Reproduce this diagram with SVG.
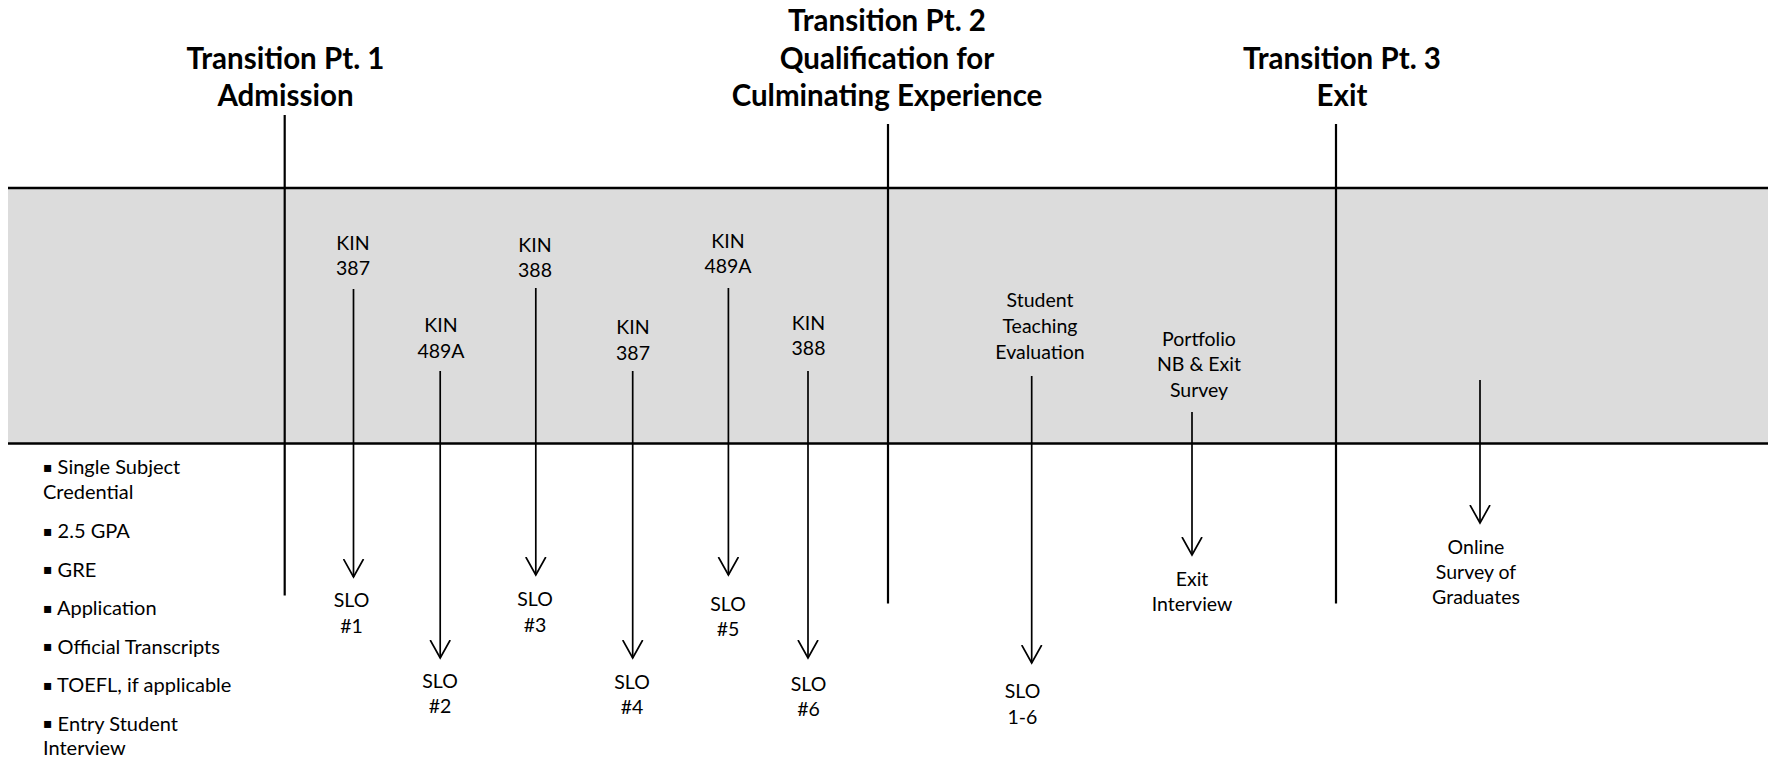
<svg xmlns="http://www.w3.org/2000/svg" width="1771" height="759" viewBox="0 0 1771 759">
<style>
  .title { font-family: Lato, "Liberation Sans", sans-serif; font-weight: bold; font-size: 29.5px; fill: #000; text-anchor: middle; }
  .lbl { font-family: Lato, "Liberation Sans", sans-serif; font-size: 19.5px; fill: #000; text-anchor: middle; }
  .lst { font-family: Lato, "Liberation Sans", sans-serif; font-size: 20px; fill: #000; }
  .bul { font-family: "DejaVu Sans", sans-serif; font-size: 14px; }
  .band { fill: #dcdcdc; }
  .edge { stroke: #000; stroke-width: 2.5; fill: none; }
  .tp { stroke: #000; stroke-width: 2.2; fill: none; }
  .arr { stroke: #000; stroke-width: 1.7; fill: none; marker-end: url(#vhead); }
</style>
<defs>
  <marker id="vhead" viewBox="0 0 20 22" refX="18" refY="11" markerWidth="20" markerHeight="22" markerUnits="userSpaceOnUse" orient="auto">
    <path d="M0,1 L18,11 L0,21" fill="none" stroke="#000" stroke-width="1.7"/>
  </marker>
</defs>
<rect width="1771" height="759" fill="#fff"/>
<g id="band">
  <rect class="band" x="8" y="188" width="1760" height="255"/>
  <line class="edge" x1="8" y1="188" x2="1768" y2="188"/>
  <line class="edge" x1="8" y1="443.5" x2="1768" y2="443.5"/>
</g>
<g id="transition-1">
  <text class="title" x="285.5" y="68.5">Transition Pt. 1</text>
  <text class="title" x="285.5" y="106">Admission</text>
  <line class="tp" x1="284.7" y1="115" x2="284.7" y2="595.5"/>
</g>
<g id="transition-2">
  <text class="title" x="887" y="30.5">Transition Pt. 2</text>
  <text class="title" x="887" y="68.5">Qualification for</text>
  <text class="title" x="887" y="106">Culminating Experience</text>
  <line class="tp" x1="888" y1="124" x2="888" y2="603.5"/>
</g>
<g id="transition-3">
  <text class="title" x="1342" y="68.5">Transition Pt. 3</text>
  <text class="title" x="1342" y="106">Exit</text>
  <line class="tp" x1="1336" y1="124" x2="1336" y2="603.5"/>
</g>
<g id="admission-list">
  <text class="lst" x="43" y="474"><tspan class="bul" dy="-2.5">▪</tspan><tspan dy="2.5"> Single Subject</tspan></text>
  <text class="lst" x="43" y="499">Credential</text>
  <text class="lst" x="43" y="538"><tspan class="bul" dy="-2.5">▪</tspan><tspan dy="2.5"> 2.5 GPA</tspan></text>
  <text class="lst" x="43" y="576.5"><tspan class="bul" dy="-2.5">▪</tspan><tspan dy="2.5"> GRE</tspan></text>
  <text class="lst" x="43" y="615"><tspan class="bul" dy="-2.5">▪</tspan><tspan dy="2.5"> Application</tspan></text>
  <text class="lst" x="43" y="653.5"><tspan class="bul" dy="-2.5">▪</tspan><tspan dy="2.5"> Official Transcripts</tspan></text>
  <text class="lst" x="43" y="692"><tspan class="bul" dy="-2.5">▪</tspan><tspan dy="2.5"> TOEFL, if applicable</tspan></text>
  <text class="lst" x="43" y="730.5"><tspan class="bul" dy="-2.5">▪</tspan><tspan dy="2.5"> Entry Student</tspan></text>
  <text class="lst" x="43" y="755">Interview</text>
</g>
<g id="kin387-a"><text class="lbl" x="353" y="250">KIN</text><text class="lbl" x="353" y="275">387</text></g>
<g id="kin489a-a"><text class="lbl" x="441" y="332">KIN</text><text class="lbl" x="441" y="357.5">489A</text></g>
<g id="kin388-a"><text class="lbl" x="535" y="252">KIN</text><text class="lbl" x="535" y="277">388</text></g>
<g id="kin387-b"><text class="lbl" x="633" y="334">KIN</text><text class="lbl" x="633" y="360">387</text></g>
<g id="kin489a-b"><text class="lbl" x="728" y="248">KIN</text><text class="lbl" x="728" y="273">489A</text></g>
<g id="kin388-b"><text class="lbl" x="808.5" y="329.5">KIN</text><text class="lbl" x="808.5" y="355">388</text></g>
<g id="student-teaching"><text class="lbl" x="1040" y="306.5">Student</text><text class="lbl" x="1040" y="332.5">Teaching</text><text class="lbl" x="1040" y="358.5">Evaluation</text></g>
<g id="portfolio"><text class="lbl" x="1199" y="345.5">Portfolio</text><text class="lbl" x="1199" y="371">NB &amp; Exit</text><text class="lbl" x="1199" y="396.5">Survey</text></g>
<g id="slo1"><text class="lbl" x="351.5" y="607">SLO</text><text class="lbl" x="351.5" y="632.5">#1</text></g>
<g id="slo2"><text class="lbl" x="440" y="688">SLO</text><text class="lbl" x="440" y="713">#2</text></g>
<g id="slo3"><text class="lbl" x="535" y="606">SLO</text><text class="lbl" x="535" y="631.5">#3</text></g>
<g id="slo4"><text class="lbl" x="632" y="689">SLO</text><text class="lbl" x="632" y="714">#4</text></g>
<g id="slo5"><text class="lbl" x="728" y="611">SLO</text><text class="lbl" x="728" y="636">#5</text></g>
<g id="slo6"><text class="lbl" x="808.5" y="690.5">SLO</text><text class="lbl" x="808.5" y="716">#6</text></g>
<g id="slo1-6"><text class="lbl" x="1022.5" y="698">SLO</text><text class="lbl" x="1022.5" y="724">1-6</text></g>
<g id="exit-interview"><text class="lbl" x="1192" y="586">Exit</text><text class="lbl" x="1192" y="611">Interview</text></g>
<g id="online-survey"><text class="lbl" x="1476" y="554">Online</text><text class="lbl" x="1476" y="579">Survey of</text><text class="lbl" x="1476" y="604">Graduates</text></g>
<g id="connectors">
  <line class="arr" x1="353.5" y1="289" x2="353.5" y2="577"/>
  <line class="arr" x1="440.2" y1="371" x2="440.2" y2="658"/>
  <line class="arr" x1="535.8" y1="288" x2="535.8" y2="575"/>
  <line class="arr" x1="632.7" y1="371" x2="632.7" y2="658"/>
  <line class="arr" x1="728.4" y1="288" x2="728.4" y2="575"/>
  <line class="arr" x1="808" y1="371" x2="808" y2="658"/>
  <line class="arr" x1="1031.7" y1="376" x2="1031.7" y2="663"/>
  <line class="arr" x1="1192" y1="412" x2="1192" y2="555"/>
  <line class="arr" x1="1480" y1="380" x2="1480" y2="523"/>
</g>
</svg>
